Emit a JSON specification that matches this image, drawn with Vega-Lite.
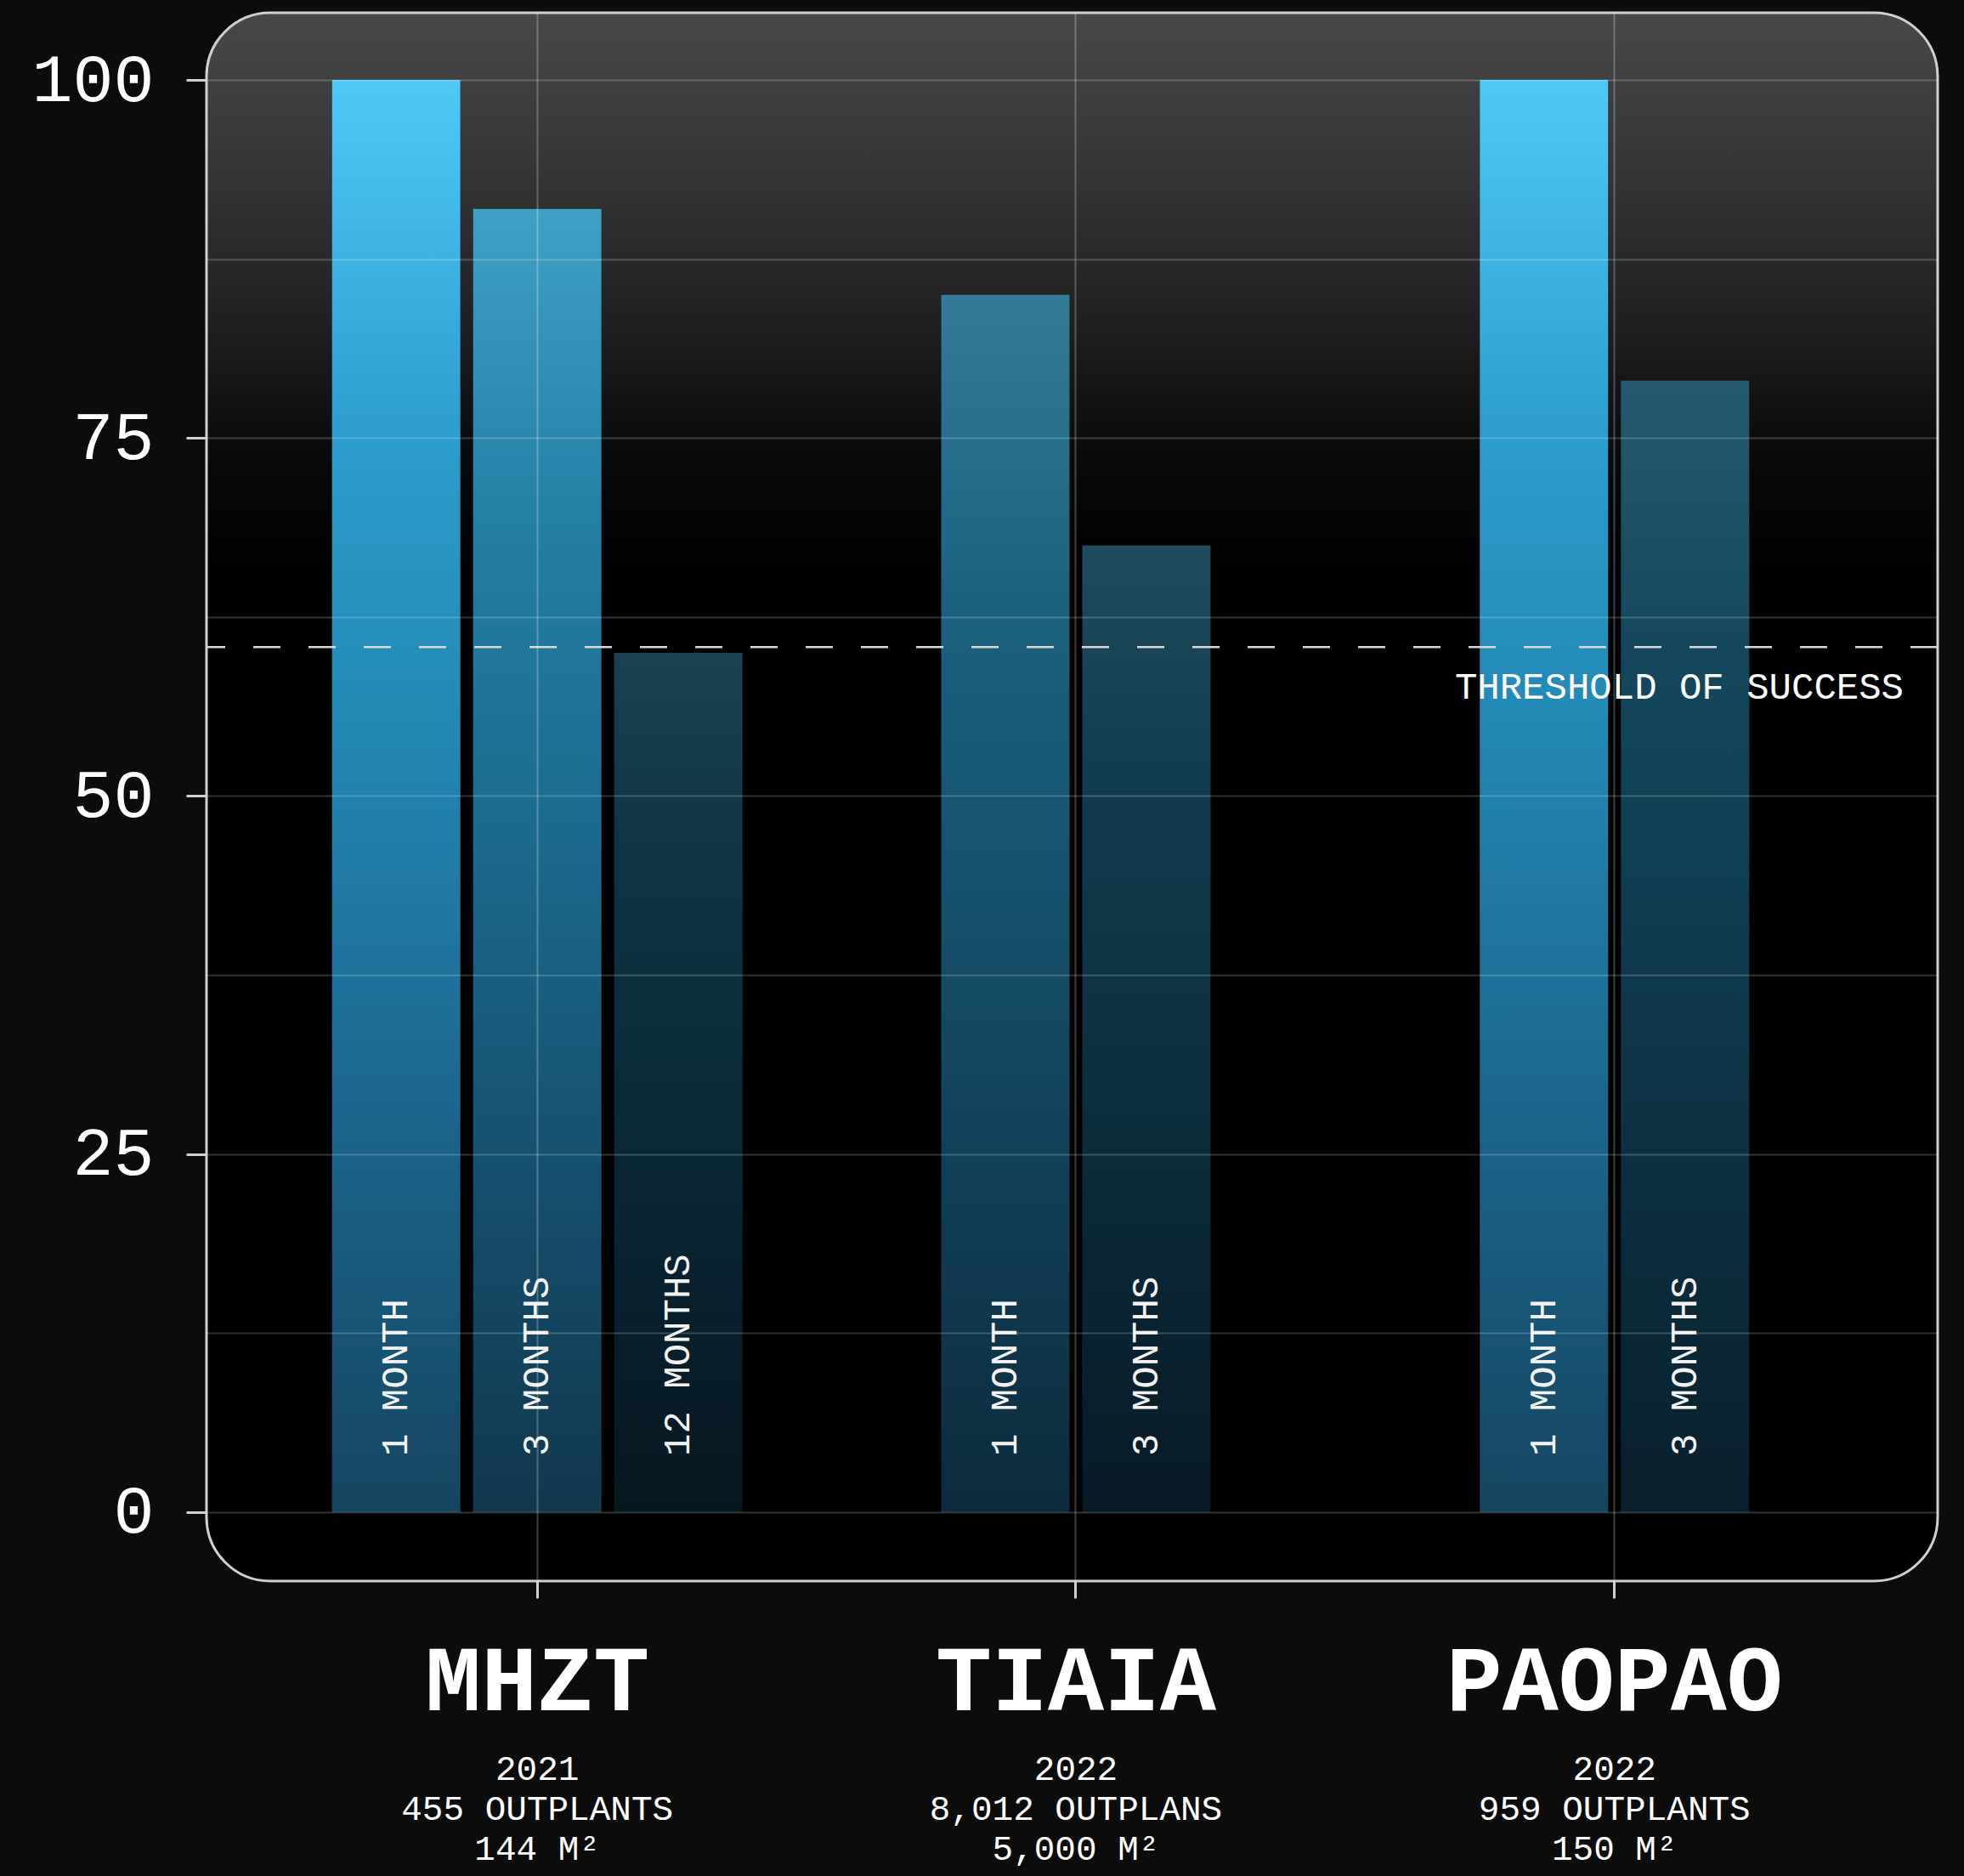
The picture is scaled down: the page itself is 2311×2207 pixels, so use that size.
{
  "$schema": "https://vega.github.io/schema/vega-lite/v6.json",
  "autosize": {"type": "none"},
  "width": 2037,
  "height": 1845,
  "padding": {"left": 243, "top": 15, "right": 31, "bottom": 347},
  "background": "#0c0c0c",
  "view": {
    "cornerRadius": 75,
    "stroke": "#d0d0d0",
    "strokeWidth": 3,
    "fill": {
      "gradient": "linear",
      "x1": 0, "y1": 0, "x2": 0, "y2": 1,
      "stops": [
        {"offset": 0, "color": "#484848"},
        {"offset": 0.1, "color": "#353535"},
        {"offset": 0.2, "color": "#1f1f1f"},
        {"offset": 0.28, "color": "#0a0a0a"},
        {"offset": 0.36, "color": "#000000"},
        {"offset": 1, "color": "#000000"}
      ]
    }
  },
  "config": {"font": "Liberation Mono"},
  "data": {
    "values": [
      {"site": "MHZT", "months": 1, "period": "1 MONTH", "survival": 100},
      {"site": "MHZT", "months": 3, "period": "3 MONTHS", "survival": 91},
      {"site": "MHZT", "months": 12, "period": "12 MONTHS", "survival": 60},
      {"site": "TIAIA", "months": 1, "period": "1 MONTH", "survival": 85},
      {"site": "TIAIA", "months": 3, "period": "3 MONTHS", "survival": 67.5},
      {"site": "PAOPAO", "months": 1, "period": "1 MONTH", "survival": 100},
      {"site": "PAOPAO", "months": 3, "period": "3 MONTHS", "survival": 79}
    ]
  },
  "layer": [
    {
      "transform": [
        {"window": [{"op": "count", "as": "n"}, {"op": "row_number", "as": "r"}], "groupby": ["site"], "sort": [{"field": "months"}], "frame": [null, null]},
        {"calculate": "2 * datum.r - datum.n", "as": "slot"}
      ],
      "encoding": {
        "x": {
          "field": "site",
          "type": "nominal",
          "sort": ["MHZT", "TIAIA", "PAOPAO"],
          "scale": {"paddingInner": 0, "paddingOuter": 0.107, "align": 0.533},
          "axis": {
            "orient": "bottom",
            "title": null,
            "domain": false,
            "grid": true,
            "gridColor": "#ffffff",
            "gridOpacity": 0.25,
            "gridWidth": 2,
            "bandPosition": 0.5,
            "tickColor": "#d0d0d0",
            "tickSize": 20,
            "tickWidth": 3,
            "labelFont": "Liberation Mono",
            "labelFontSize": 110,
            "labelFontWeight": "bold",
            "labelColor": "#ffffff",
            "labelPadding": 44,
            "labelAngle": 0,
            "labelLimit": 0,
            "zindex": 1
          }
        },
        "xOffset": {
          "field": "slot",
          "type": "ordinal",
          "scale": {"domain": [-2, -1, 0, 1, 2, 3, 4], "paddingInner": 0, "paddingOuter": 0.318}
        },
        "y": {
          "field": "survival",
          "type": "quantitative",
          "scale": {"domain": [-4.81, 104.69], "nice": false, "zero": false},
          "axis": {
            "title": null,
            "values": [0, 12.5, 25, 37.5, 50, 62.5, 75, 87.5, 100],
            "labelExpr": "datum.value % 25 === 0 ? format(datum.value, 'd') : ''",
            "domain": false,
            "grid": true,
            "gridColor": "#ffffff",
            "gridOpacity": 0.2,
            "gridWidth": 2,
            "tickColor": {"condition": {"test": "datum.value % 25 !== 0", "value": "transparent"}, "value": "#d0d0d0"},
            "tickSize": 24,
            "tickWidth": 3,
            "labelFont": "Liberation Mono",
            "labelFontSize": 80,
            "labelColor": "#ffffff",
            "labelPadding": 38,
            "zindex": 1
          }
        }
      },
      "layer": [
        {
          "mark": {"type": "bar", "width": 151, "color": "#000000"},
          "encoding": {
            "x": {"field": "site", "type": "nominal", "sort": ["MHZT", "TIAIA", "PAOPAO"], "axis": null},
            "y2": {"datum": 0}
          }
        },
        {
          "mark": {
            "type": "bar",
            "width": 151,
            "color": {
              "gradient": "linear",
              "x1": 0, "y1": 0, "x2": 0, "y2": 1,
              "stops": [
                {"offset": 0, "color": "#50c8f6"},
                {"offset": 0.25, "color": "#2c9dcd"},
                {"offset": 0.45, "color": "#2388b4"},
                {"offset": 0.7, "color": "#1c6890"},
                {"offset": 1, "color": "#154560"}
              ]
            }
          },
          "encoding": {
            "y2": {"datum": 0},
            "opacity": {
              "field": "survival",
              "type": "quantitative",
              "scale": {"domain": [60, 67.5, 79, 85, 91, 100], "range": [0.33, 0.38, 0.45, 0.62, 0.8, 1]},
              "legend": null
            }
          }
        },
        {
          "mark": {
            "type": "text",
            "angle": 270,
            "align": "left",
            "baseline": "middle",
            "dx": 66,
            "font": "Liberation Mono",
            "fontSize": 44,
            "color": "#f2f2f2"
          },
          "encoding": {
            "x": {
              "field": "site",
              "type": "nominal",
              "sort": ["MHZT", "TIAIA", "PAOPAO"],
              "axis": {
                "orient": "bottom",
                "title": null,
                "domain": false,
                "grid": false,
                "ticks": false,
                "labelExpr": "datum.value === 'MHZT' ? ['2021', '455 OUTPLANTS', '144 M²'] : datum.value === 'TIAIA' ? ['2022', '8,012 OUTPLANS', '5,000 M²'] : ['2022', '959 OUTPLANTS', '150 M²']",
                "labelFont": "Liberation Mono",
                "labelFontSize": 41,
                "labelColor": "#ffffff",
                "labelPadding": 201,
                "labelLineHeight": 47,
                "labelAngle": 0,
                "labelBaseline": "top",
                "labelLimit": 0,
                "labelOverlap": false,
                "labelBound": false
              }
            },
            "y": {"datum": 0, "type": "quantitative"},
            "text": {"field": "period"}
          }
        }
      ],
      "resolve": {"axis": {"x": "independent"}}
    },
    {
      "data": {"values": [{"label": "THRESHOLD OF SUCCESS", "level": 60.4}]},
      "layer": [
        {
          "mark": {"type": "rule", "color": "#d8d8d8", "strokeWidth": 2.5, "strokeDash": [32, 33]},
          "encoding": {"y": {"field": "level", "type": "quantitative"}}
        },
        {
          "mark": {
            "type": "text",
            "align": "right",
            "baseline": "top",
            "dx": -40,
            "dy": 26,
            "font": "Liberation Mono",
            "fontSize": 44,
            "color": "#ffffff"
          },
          "encoding": {
            "x": {"value": "width"},
            "y": {"field": "level", "type": "quantitative"},
            "text": {"field": "label"}
          }
        }
      ]
    }
  ],
  "resolve": {"axis": {"x": "independent"}}
}
